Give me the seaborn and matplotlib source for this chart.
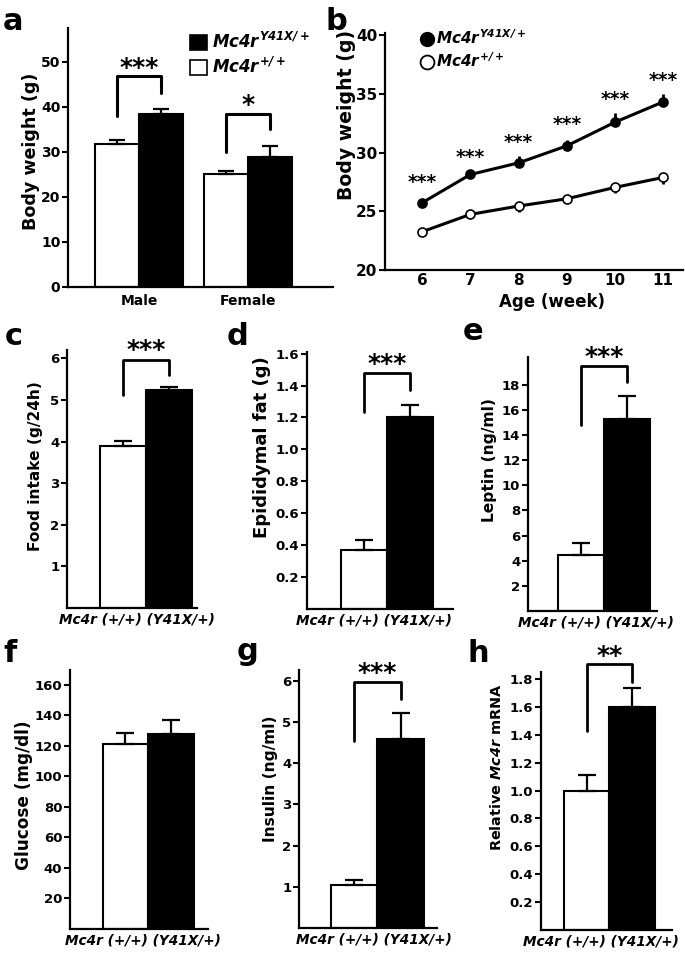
import numpy as np
import pandas as pd
import seaborn as sns
import matplotlib.pyplot as plt
from matplotlib.patches import Patch
from matplotlib.lines import Line2D

sns.set_style('ticks')
plt.rcParams['font.family'] = ['DejaVu Sans']
plt.rcParams['font.weight'] = 'bold'
plt.rcParams['axes.labelweight'] = 'bold'
for k in ['text.color', 'axes.labelcolor', 'xtick.color', 'ytick.color', 'axes.edgecolor']:
    plt.rcParams[k] = 'black'
plt.rcParams['mathtext.fontset'] = 'custom'
for k in ['mathtext.it', 'mathtext.rm', 'mathtext.bf']:
    plt.rcParams[k] = 'DejaVu Sans:italic:bold'

# ---- data ----
# a: body weight by sex
sexes = ['Male', 'Female']
a_wt = [31.7, 25.1]
a_wt_sem = [0.9, 0.6]
a_mut = [38.5, 28.9]
a_mut_sem = [1.1, 2.4]

# b: growth curve
weeks = [6, 7, 8, 9, 10, 11]
b_mut = [25.73, 28.14, 29.13, 30.58, 32.60, 34.33]
b_mut_sem = [0.28, 0.37, 0.57, 0.54, 0.74, 0.71]
b_wt = [23.26, 24.74, 25.45, 26.07, 27.04, 27.89]
b_wt_sem = [0.15, 0.34, 0.48, 0.34, 0.51, 0.57]

# c-h: two-genotype comparisons
genotypes = ['+/+', 'Y41X/+']
food = [3.90, 5.24]
food_sem = [0.12, 0.08]
fat = [0.37, 1.204]
fat_sem = [0.06, 0.076]
leptin = [4.45, 15.24]
leptin_sem = [0.92, 1.84]
glucose = [121.3, 127.6]
glucose_sem = [7.2, 9.4]
insulin = [1.04, 4.59]
insulin_sem = [0.12, 0.63]
mrna = [1.00, 1.60]
mrna_sem = [0.108, 0.138]

W, H = 685, 958
fig = plt.figure(figsize=(W / 100, H / 100), dpi=100)


def px_axes(left, top, right, bottom):
    return fig.add_axes([left / W, 1 - bottom / H, (right - left) / W, (bottom - top) / H])


def style_axes(ax, labelsize):
    sns.despine(ax=ax)
    for s in ['left', 'bottom']:
        ax.spines[s].set_linewidth(1.6)
    ax.tick_params(axis='y', direction='out', length=4, width=1.5, labelsize=labelsize, pad=1.5)
    ax.tick_params(axis='x', length=0, labelsize=labelsize)


def star(ax, x, y, txt, size):
    # centre of the asterisk glyph roughly at (x, y)
    ax.annotate(txt, (x, y), xytext=(0, -0.32 * size), textcoords='offset points',
                ha='center', va='baseline', fontsize=size, fontweight='bold',
                annotation_clip=False)


def place_ylabel(ax, text, size, fx, fy):
    ax.set_ylabel(text, fontsize=size, va='center')
    ax.yaxis.set_label_coords(fx, fy)


# ---------------- panel a ----------------
ax = px_axes(68, 28, 333, 287)
df_a = pd.DataFrame({'sex': sexes * 2,
                     'geno': ['+/+'] * 2 + ['Y41X/+'] * 2,
                     'bw': a_wt + a_mut})
sns.barplot(data=df_a, x='sex', y='bw', hue='geno', hue_order=['+/+', 'Y41X/+'],
            palette=['white', 'black'], edgecolor='black', linewidth=1.5,
            width=0.8, errorbar=None, legend=False, ax=ax)
xs = np.arange(len(sexes))
ax.errorbar(xs - 0.2, a_wt, yerr=[np.zeros(2), a_wt_sem], fmt='none', ecolor='black',
            elinewidth=1.6, capsize=5.5, capthick=1.6)
ax.errorbar(xs + 0.2, a_mut, yerr=[np.zeros(2), a_mut_sem], fmt='none', ecolor='black',
            elinewidth=1.6, capsize=5.5, capthick=1.6)
ax.set_xlim(-0.651, 1.78)
ax.set_ylim(0, 57.5)
ax.set_yticks([0, 10, 20, 30, 40, 50])
ax.set_xlabel('')
place_ylabel(ax, 'Body weight (g)', 12.6, -0.138, 0.525)
style_axes(ax, 10)
ax.tick_params(axis='x', pad=5)
for (x0, x1, yl, yt, yr, s, ys) in [(-0.2, 0.2, 37.9, 46.8, 43.0, '***', 48.9),
                                     (0.8, 1.2, 30.0, 38.5, 35.0, '*', 40.7)]:
    ax.plot([x0, x0, x1, x1], [yl, yt, yt, yr], color='black', lw=2.2, clip_on=False)
    star(ax, (x0 + x1) / 2, ys, s, 18)
ax.legend(handles=[Patch(facecolor='black', edgecolor='black', lw=1.2),
                   Patch(facecolor='white', edgecolor='black', lw=1.2)],
          labels=[r'$Mc4r^{Y41X/+}$', r'$Mc4r^{+/+}$'],
          loc='upper left', bbox_to_anchor=(0.46, 0.985), frameon=False,
          fontsize=12, handlelength=1.0, handleheight=1.0, handletextpad=0.3,
          borderpad=0, borderaxespad=0, labelspacing=0.3)

# ---------------- panel b ----------------
ax = px_axes(385, 33, 683, 270)
df_b = pd.DataFrame({'week': weeks * 2,
                     'bw': b_mut + b_wt,
                     'geno': ['Y41X/+'] * 6 + ['+/+'] * 6})
for g, fc in [('+/+', 'white'), ('Y41X/+', 'black')]:
    sns.lineplot(data=df_b[df_b.geno == g], x='week', y='bw', color='black', lw=2.2,
                 marker='o', markersize=6.5, markerfacecolor=fc, markeredgecolor='black',
                 markeredgewidth=1.2, ax=ax, zorder=3)
ax.errorbar(weeks, b_mut, yerr=[np.zeros(6), b_mut_sem], fmt='none', ecolor='black',
            elinewidth=2, capsize=0, zorder=2)
ax.errorbar(weeks, b_wt, yerr=[b_wt_sem, np.zeros(6)], fmt='none', ecolor='black',
            elinewidth=2, capsize=0, zorder=2)
b_star_y = [27.5, 29.65, 30.92, 32.48, 34.6, 36.17]
for wk, ys in zip(weeks, b_star_y):
    star(ax, wk, ys, '***', 13.5)
ax.set_xlim(5.23, 11.41)
ax.set_ylim(20, 40.2)
ax.set_xticks(weeks)
ax.set_yticks([20, 25, 30, 35, 40])
ax.set_xlabel('Age (week)', fontsize=12, va='top')
ax.xaxis.set_label_coords(0.56, -0.095)
place_ylabel(ax, 'Body weight (g)', 13.6, -0.13, 0.654)
style_axes(ax, 11)
ax.tick_params(axis='x', pad=2)
ax.legend(handles=[Line2D([], [], ls='none', marker='o', ms=10, mfc='black', mec='black'),
                   Line2D([], [], ls='none', marker='o', ms=10, mfc='white', mec='black', mew=1.3)],
          labels=[r'$Mc4r^{Y41X/+}$', r'$Mc4r^{+/+}$'],
          loc='upper left', bbox_to_anchor=(0.122, 1.02), frameon=False, fontsize=11,
          handlelength=0.8, handletextpad=0.15, borderpad=0, borderaxespad=0,
          labelspacing=0.3)


# ---------------- panels c-h ----------------
def geno_panel(rect, vals, sems, ylim, yticks, ylabel, ysize, ylab_xy, xlim, xlab_fx, sig=None):
    ax = px_axes(*rect)
    df = pd.DataFrame({'geno': genotypes, 'val': vals})
    sns.barplot(data=df, x='geno', y='val', hue='geno', palette=['white', 'black'],
                edgecolor='black', linewidth=1.5, width=1, errorbar=None,
                legend=False, ax=ax)
    ax.errorbar([0, 1], vals, yerr=[[0, 0], sems], fmt='none', ecolor='black',
                elinewidth=1.6, capsize=6.5, capthick=1.6)
    ax.set_xlim(*xlim)
    ax.set_ylim(*ylim)
    ax.set_yticks(yticks)
    ax.set_xticks([])
    place_ylabel(ax, ylabel, ysize, *ylab_xy)
    ax.set_xlabel('Mc4r (+/+) (Y41X/+)', fontsize=9.8, fontstyle='italic')
    ax.xaxis.set_label_coords(xlab_fx, -0.018)
    style_axes(ax, 9.5)
    if sig is not None:
        yl, yt, yr, s, ys = sig
        ax.plot([0, 0, 1, 1], [yl, yt, yt, yr], color='black', lw=2, clip_on=False)
        star(ax, 0.5, ys, s, 18)
    return ax


geno_panel((67, 350, 197, 608), food, food_sem, (0, 6.2), [1, 2, 3, 4, 5, 6],
           'Food intake (g/24h)', 11.1, (-0.246, 0.55), (-1.217, 1.609), 0.54,
           (5.11, 5.97, 5.61, '***', 6.22))
geno_panel((307, 352, 453, 609), fat, fat_sem, (0, 1.61), [0.2, 0.4, 0.6, 0.8, 1.0, 1.2, 1.4, 1.6],
           'Epididymal fat (g)', 13, (-0.308, 0.63), (-1.24, 1.93), 0.46,
           (1.235, 1.48, 1.37, '***', 1.54))
geno_panel((528, 357, 657, 611), leptin, leptin_sem, (0, 20.2), [2, 4, 6, 8, 10, 12, 14, 16, 18],
           'Leptin (ng/ml)', 11.2, (-0.295, 0.594), (-1.15, 1.65), 0.53,
           (14.8, 19.45, 18.2, '***', 20.3))
geno_panel((70, 670, 208, 929), glucose, glucose_sem, (0, 169.8), [20, 40, 60, 80, 100, 120, 140, 160],
           'Glucose (mg/dl)', 12.2, (-0.333, 0.517), (-1.21, 1.8), 0.53)
geno_panel((299, 670, 437, 928), insulin, insulin_sem, (0, 6.26), [1, 2, 3, 4, 5, 6],
           'Insulin (ng/ml)', 11.1, (-0.21, 0.58), (-1.18, 1.78), 0.54,
           (4.53, 5.98, 5.55, '***', 6.22))
geno_panel((541, 672, 672, 930), mrna, mrna_sem, (0, 1.85), [0.2, 0.4, 0.6, 0.8, 1.0, 1.2, 1.4, 1.6, 1.8],
           r'Relative $Mc4r$ mRNA', 10.4, (-0.336, 0.63), (-0.99, 1.86), 0.46,
           (1.43, 1.91, 1.78, '**', 1.97))

# panel letters
for letter, x, y in [('a', 3, 30), ('b', 325, 30), ('c', 5, 345), ('d', 227, 345),
                     ('e', 463, 340), ('f', 3, 662), ('g', 237, 660), ('h', 467, 662)]:
    fig.text(x / W, 1 - y / H, letter, fontsize=22, fontweight='bold', ha='left', va='baseline')

fig.savefig('out.png', dpi=100)
